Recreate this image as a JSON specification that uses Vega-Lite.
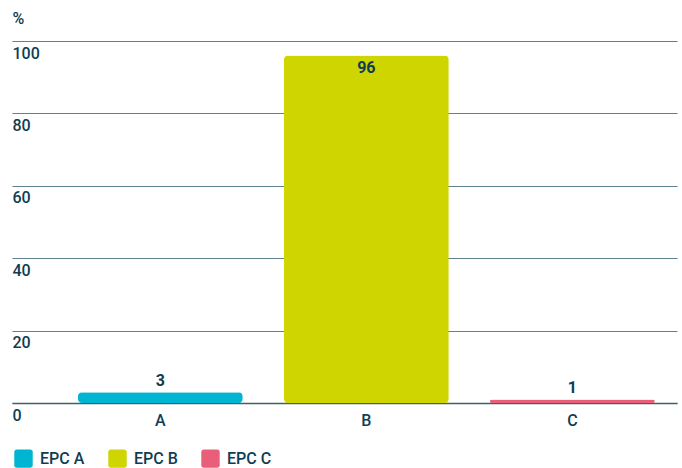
{
  "$schema": "https://vega.github.io/schema/vega-lite/v6.json",
  "width": 665,
  "height": 362,
  "autosize": {"type": "none"},
  "padding": {"left": 12, "top": 41, "right": 5, "bottom": 65},
  "background": "white",
  "config": {
    "view": {"stroke": null},
    "font": "Roboto",
    "text": {"font": "Roboto"}
  },
  "data": {
    "values": [
      {"category": "A", "series": "EPC A", "value": 3},
      {"category": "B", "series": "EPC B", "value": 96},
      {"category": "C", "series": "EPC C", "value": 1}
    ]
  },
  "encoding": {
    "x": {
      "field": "category",
      "type": "nominal",
      "scale": {"paddingInner": 0.2, "paddingOuter": 0.214, "align": 0.748},
      "axis": {
        "title": null,
        "labelAngle": 0,
        "ticks": false,
        "domain": true,
        "domainColor": "#3d5f6e",
        "domainWidth": 1.5,
        "labelFontSize": 16,
        "labelFontWeight": 500,
        "labelColor": "#0f3d52",
        "labelPadding": 9,
        "labelFont": "Roboto"
      }
    },
    "y": {
      "field": "value",
      "type": "quantitative",
      "scale": {"domain": [0, 100], "nice": false},
      "axis": {
        "values": [0, 20, 40, 60, 80, 100],
        "domain": false,
        "ticks": false,
        "grid": true,
        "gridColor": "#5f8191",
        "gridWidth": 1,
        "labelAlign": "left",
        "labelBaseline": "top",
        "labelPadding": 0,
        "labelOffset": 4,
        "labelFontSize": 16,
        "labelFontWeight": 500,
        "labelColor": "#0f3d52",
        "labelFont": "Roboto",
        "title": "%",
        "titleAngle": 0,
        "titleX": 0,
        "titleY": -23,
        "titleAlign": "left",
        "titleBaseline": "middle",
        "titleFontSize": 16,
        "titleFontWeight": 500,
        "titleColor": "#0f3d52",
        "titleFont": "Roboto"
      }
    }
  },
  "layer": [
    {
      "mark": {"type": "bar", "cornerRadius": 4},
      "encoding": {
        "color": {
          "field": "series",
          "type": "nominal",
          "scale": {"domain": ["EPC A", "EPC B", "EPC C"], "range": ["#00b5d1", "#cfd500", "#e95f7a"]},
          "legend": {
            "title": null,
            "orient": "none",
            "direction": "horizontal",
            "legendX": 2,
            "legendY": 408,
            "symbolType": "M-1,-0.7Q-1,-1 -0.7,-1L0.7,-1Q1,-1 1,-0.7L1,0.7Q1,1 0.7,1L-0.7,1Q-1,1 -1,0.7Z",
            "symbolSize": 340,
            "symbolStrokeWidth": 0,
            "symbolOpacity": 1,
            "labelFontSize": 16,
            "labelFontWeight": 500,
            "labelColor": "#0f3d52",
            "labelFont": "Roboto",
            "columnPadding": 23,
            "labelOffset": 7
          }
        }
      }
    },
    {
      "transform": [{"filter": "datum.value < 50"}],
      "mark": {"type": "text", "baseline": "bottom", "dy": -3, "fontSize": 16, "fontWeight": "bold", "color": "#0f3d52"},
      "encoding": {"text": {"field": "value", "type": "quantitative"}}
    },
    {
      "transform": [{"filter": "datum.value >= 50"}],
      "mark": {"type": "text", "baseline": "top", "dy": 5, "fontSize": 16, "fontWeight": "bold", "color": "#0f3d52"},
      "encoding": {"text": {"field": "value", "type": "quantitative"}}
    }
  ]
}
